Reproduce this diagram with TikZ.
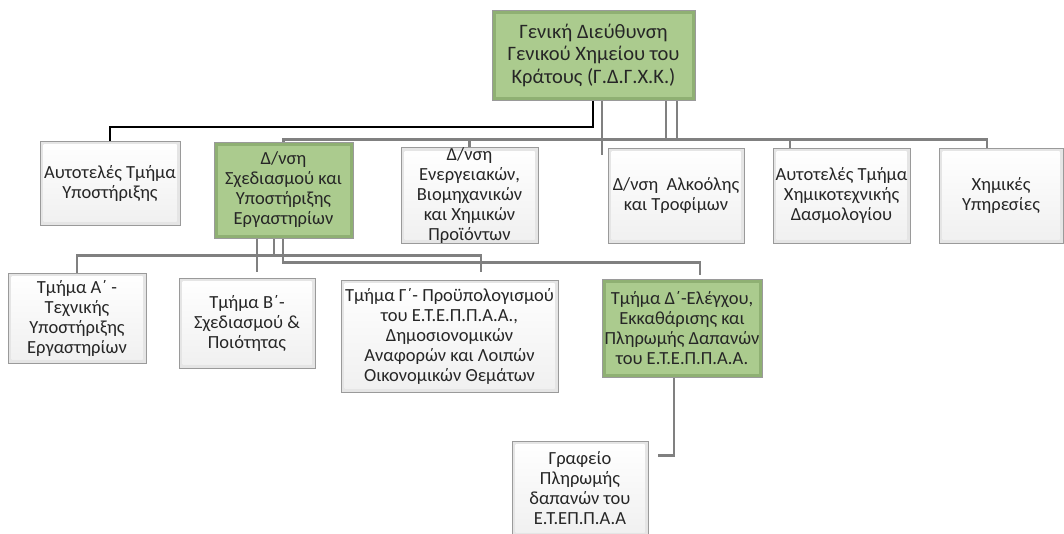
\documentclass[tikz,border=0pt]{standalone}
\usepackage{fontspec}
\setmainfont{Carlito}
\usetikzlibrary{backgrounds}
\definecolor{grn}{HTML}{ABCB8E}
\definecolor{grnedge}{HTML}{8FB073}
\definecolor{lin}{HTML}{808080}
\definecolor{bord}{HTML}{9A9A9A}
\tikzset{
  base/.style={draw=bord, line width=0.8pt, inner sep=0pt, align=center,
    font=\fontsize{18.5}{20}\selectfont, text=black!85},
  wbox/.style={base, fill=gray!20, path picture={
    \fill[top color=white, bottom color=gray!12]
      ([shift={(3.5pt,-3.5pt)}]path picture bounding box.north west) rectangle
      ([shift={(-3.5pt,3.5pt)}]path picture bounding box.south east);}},
  gbox/.style={base, fill=grnedge, path picture={
    \fill[grn]
      ([shift={(3.5pt,-3.5pt)}]path picture bounding box.north west) rectangle
      ([shift={(-3.5pt,3.5pt)}]path picture bounding box.south east);}},
  gry/.style={draw=lin, line width=2.4pt},
  blk/.style={draw=black, line width=2pt},
}
\begin{document}
\begin{tikzpicture}[x=1pt,y=-1pt]
\useasboundingbox (0,0) rectangle (1064,533);
% top
\node[gbox, minimum width=203, minimum height=90, font=\fontsize{20.5}{22.5}\selectfont] (top) at (593.5,55)
  {Γενική Διεύθυνση\\Γενικού Χημείου του\\Κράτους (Γ.Δ.Γ.Χ.Κ.)};
% second row
\node[wbox, minimum width=140, minimum height=84] (aut) at (110,183) {Αυτοτελές Τμήμα\\Υποστήριξης};
\node[gbox, minimum width=139, minimum height=96] (sch) at (283.5,190) {Δ/νση\\Σχεδιασμού και\\Υποστήριξης\\Εργαστηρίων};
\node[wbox, minimum width=137, minimum height=95] (ene) at (469.5,195.5) {Δ/νση\\Ενεργειακών,\\Βιομηχανικών\\και Χημικών\\Προϊόντων};
\node[wbox, minimum width=136, minimum height=95] (alk) at (676,195.5) {Δ/νση~ Αλκοόλης\\και Τροφίμων};
\node[wbox, minimum width=137, minimum height=95] (chx) at (841.5,195.5) {Αυτοτελές Τμήμα\\Χημικοτεχνικής\\Δασμολογίου};
\node[wbox, minimum width=124, minimum height=95] (chy) at (1001,195.5) {Χημικές\\Υπηρεσίες};
% third row
\node[wbox, minimum width=138, minimum height=90] (ta) at (77,318) {Τμήμα Α΄ -\\Τεχνικής\\Υποστήριξης\\Εργαστηρίων};
\node[wbox, minimum width=136, minimum height=90] (tb) at (247,323) {Τμήμα Β΄-\\Σχεδιασμού \&\\Ποιότητας};
\node[wbox, minimum width=217, minimum height=112] (tg) at (449.5,336) {Τμήμα Γ΄- Προϋπολογισμού\\του Ε.Τ.Ε.Π.Π.Α.Α.,\\Δημοσιονομικών\\Αναφορών και Λοιπών\\Οικονομικών Θεμάτων};
\node[gbox, minimum width=160, minimum height=98] (td) at (682,328) {Τμήμα Δ΄-Ελέγχου,\\Εκκαθάρισης και\\Πληρωμής Δαπανών\\του Ε.Τ.Ε.Π.Π.Α.Α.};
% fourth row
\node[wbox, minimum width=136, minimum height=95] (gr) at (580,488.5) {Γραφείο\\Πληρωμής\\δαπανών του\\Ε.Τ.ΕΠ.Π.Α.Α};
\begin{scope}[on background layer]
\draw[blk] ([xshift=-0.5pt]top.south) -- ++(0,27) -| (aut.north);
\draw[gry] ([xshift=8.5pt]top.south) -- ++(0,55);
\draw[gry] ([xshift=72.5pt]top.south) -- ++(0,40);
\draw[gry] ([xshift=83.5pt]top.south) -- ++(0,40);
\draw[gry] (sch.north) -- ++(0,-2) -| ([xshift=-14pt]chy.north);
\draw[gry] (ene.north) -- ++(0,-8);
\draw[gry] ([xshift=-51.5pt]chx.north) -- ++(0,-8);
\draw[gry] ([xshift=-26.5pt]sch.south) -- ++(0,34);
\draw[gry] ([xshift=-9.5pt]sch.south) -- ++(0,17) -| (ta.north);
\draw[gry] ([xshift=-9.5pt]sch.south) ++(0,17) -| ([xshift=31.5pt,yshift=8pt]tg.north);
\draw[gry] ([xshift=-0.5pt]sch.south) -- ++(0,24) -| ([xshift=18pt,yshift=4pt]td.north);
\draw[gry] ([xshift=-8pt]td.south) -- ++(0,78) -- ++(-16,0);
\end{scope}
\end{tikzpicture}
\end{document}
